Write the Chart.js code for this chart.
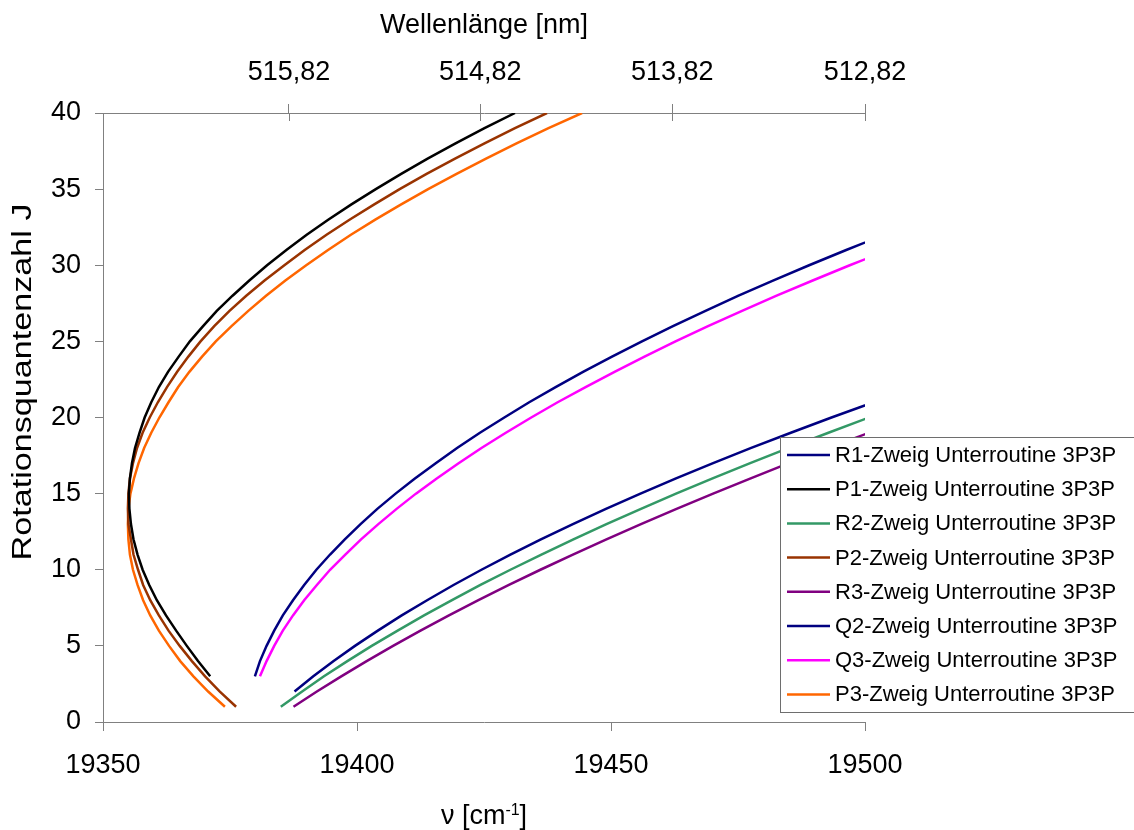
<!DOCTYPE html>
<html>
<head>
<meta charset="utf-8">
<script src="https://cdn.jsdelivr.net/npm/chart.js@4.4.0/dist/chart.umd.min.js"></script>
<style>
  html, body { margin: 0; padding: 0; background: #ffffff; overflow: hidden; }
  canvas { display: block; }
</style>
</head>
<body>
<canvas id="chart" width="1134" height="830"></canvas>
<script>
// Rotational lines of the 3P-3P band: wavenumber (cm^-1) for each rotational quantum number J
const labels = [
  'R1-Zweig Unterroutine 3P3P',
  'P1-Zweig Unterroutine 3P3P',
  'R2-Zweig Unterroutine 3P3P',
  'P2-Zweig Unterroutine 3P3P',
  'R3-Zweig Unterroutine 3P3P',
  'Q2-Zweig Unterroutine 3P3P',
  'Q3-Zweig Unterroutine 3P3P',
  'P3-Zweig Unterroutine 3P3P'
];
const colors = ['#000080', '#000000', '#339966', '#993300', '#800080', '#000080', '#ff00ff', '#ff6600'];

const jR1 = [2,3,4,5,6,7,8,9,10,11,12,13,14,15,16,17,18,19,20,21];
const nuR1 = [19387.7,19391.4,19395.4,19399.6,19404.1,19408.8,19413.8,19419.0,19424.5,19430.2,
              19436.2,19442.5,19449.0,19455.8,19462.8,19470.1,19477.6,19485.4,19493.4,19501.7];

const jP1 = [3,4,5,6,7,8,9,10,11,12,13,14,15,16,17,18,19,20,21,22,23,24,25,26,27,28,29,30,31,32,33,34,35,36,37,38,39,40];
const nuP1 = [19371.1,19368.7,19366.5,19364.4,19362.4,19360.6,19359.1,19357.8,19356.8,19356.0,
              19355.5,19355.2,19355.1,19355.3,19355.7,19356.3,19357.2,19358.2,19359.5,19361.0,
              19362.8,19364.9,19367.1,19369.7,19372.4,19375.5,19378.8,19382.3,19386.1,19390.1,
              19394.4,19398.9,19403.7,19408.7,19413.9,19419.4,19425.1,19431.1];

const jR2 = [1,2,3,4,5,6,7,8,9,10,11,12,13,14,15,16,17,18,19,20];
const nuR2 = [19385.0,19389.2,19393.5,19398.1,19402.9,19408.0,19413.2,19418.7,19424.3,19430.2,
              19436.3,19442.6,19449.1,19455.9,19462.8,19470.0,19477.4,19485.0,19492.8,19500.8];

const jP2 = [1,2,3,4,5,6,7,8,9,10,11,12,13,14,15,16,17,18,19,20,21,22,23,24,25,26,27,28,29,30,31,32,33,34,35,36,37,38,39,40];
const nuP2 = [19376.2,19373.0,19370.1,19367.5,19365.1,19362.9,19361.0,19359.3,19357.9,19356.9,
              19356.0,19355.5,19355.0,19354.9,19355.0,19355.3,19355.9,19356.7,19357.8,19359.2,
              19360.8,19362.6,19364.6,19366.8,19369.2,19371.9,19374.9,19378.2,19381.8,19385.7,
              19389.7,19394.0,19398.6,19403.4,19408.4,19413.7,19419.3,19425.1,19431.1,19437.4];

const jR3 = [1,2,3,4,5,6,7,8,9,10,11,12,13,14,15,16,17,18,19];
const nuR3 = [19387.5,19392.1,19396.9,19401.9,19407.1,19412.5,19418.1,19423.9,19429.9,19436.1,
              19442.5,19449.1,19455.9,19462.9,19470.1,19477.5,19485.0,19492.8,19500.8];

const jQ2 = [3,4,5,6,7,8,9,10,11,12,13,14,15,16,17,18,19,20,21,22,23,24,25,26,27,28,29,30,31,32];
const nuQ2 = [19379.9,19380.9,19382.2,19383.7,19385.4,19387.4,19389.6,19392.0,19394.7,19397.6,
              19400.7,19404.0,19407.6,19411.4,19415.5,19419.7,19424.2,19429.0,19433.9,19439.1,
              19444.5,19450.2,19456.1,19462.2,19468.6,19475.1,19482.0,19489.0,19496.3,19503.8];

const jQ3 = [3,4,5,6,7,8,9,10,11,12,13,14,15,16,17,18,19,20,21,22,23,24,25,26,27,28,29,30,31];
const nuQ3 = [19380.9,19382.2,19383.7,19385.4,19387.4,19389.6,19392.1,19394.7,19397.7,19400.8,
              19404.2,19407.8,19411.6,19415.7,19420.0,19424.5,19429.3,19434.3,19439.5,19445.0,
              19450.7,19456.6,19462.7,19469.1,19475.8,19482.6,19489.7,19497.0,19504.6];

const jP3 = [1,2,3,4,5,6,7,8,9,10,11,12,13,14,15,16,17,18,19,20,21,22,23,24,25,26,27,28,29,30,31,32,33,34,35,36,37,38,39,40];
const nuP3 = [19374.0,19370.7,19367.8,19365.2,19363.0,19361.0,19359.3,19357.9,19356.8,19355.9,
              19355.3,19355.0,19354.9,19355.0,19355.4,19356.1,19357.0,19358.1,19359.5,19361.1,
              19362.9,19364.8,19367.0,19369.5,19372.2,19375.3,19378.6,19382.1,19385.9,19390.0,
              19394.3,19398.8,19403.6,19408.7,19414.0,19419.6,19425.4,19431.4,19437.7,19444.3];

// Axis ranges and tick values
const nuMin = 19350, nuMax = 19500, nuStep = 50;
const jMin = 0, jMax = 40, jStep = 5;
const wavelengthTicks = [515.82, 514.82, 513.82, 512.82]; // nm

const branchJ = [jR1, jP1, jR2, jP2, jR3, jQ2, jQ3, jP3];
const branchNu = [nuR1, nuP1, nuR2, nuP2, nuR3, nuQ2, nuQ3, nuP3];

const axisColor = '#808080';
const fontFamily = '"Liberation Sans", Arial, Helvetica, sans-serif';
const tickFont = { family: fontFamily, size: 27 };

const datasets = labels.map((label, k) => ({
  label,
  data: branchJ[k].map((j, i) => ({ x: branchNu[k][i], y: j })),
  borderColor: colors[k],
  backgroundColor: colors[k],
  borderWidth: 2.5,
  pointRadius: 0,
  pointHoverRadius: 0,
  showLine: true,
  fill: false,
  tension: 0
}));

// Titles, inner ticks of the wavelength axis and the legend box
const decorations = {
  id: 'decorations',
  afterDraw(chart) {
    const { ctx, chartArea: area } = chart;
    const top = chart.scales.xTop;
    ctx.save();

    // wavelength ticks cross the upper axis line
    ctx.strokeStyle = axisColor;
    ctx.lineWidth = 1;
    top.ticks.forEach(t => {
      const x = Math.round(top.getPixelForValue(t.value)) + 0.5;
      ctx.beginPath();
      ctx.moveTo(x, area.top);
      ctx.lineTo(x, area.top + 8);
      ctx.stroke();
    });

    ctx.fillStyle = '#000000';

    // y axis title
    const yTitle = 'Rotationsquantenzahl J';
    ctx.font = '27px ' + fontFamily;
    ctx.save();
    ctx.translate(24, 382);
    ctx.rotate(-Math.PI / 2);
    const yw = ctx.measureText(yTitle).width;
    ctx.scale(357 / yw, 1);
    ctx.textAlign = 'center';
    ctx.textBaseline = 'middle';
    ctx.fillText(yTitle, 0, 0);
    ctx.restore();

    // x axis title with superscript unit
    const main = 'ν [cm', sup = '-1', tail = ']';
    const bigFont = '27px ' + fontFamily, supFont = '16px ' + fontFamily;
    ctx.font = bigFont;
    const w1 = ctx.measureText(main).width, w3 = ctx.measureText(tail).width;
    ctx.font = supFont;
    const w2 = ctx.measureText(sup).width;
    const cx = (area.left + area.right) / 2;
    let x = cx - (w1 + w2 + w3) / 2;
    const base = 824;
    ctx.textAlign = 'left';
    ctx.textBaseline = 'alphabetic';
    ctx.font = bigFont;
    ctx.fillText(main, x, base);
    x += w1;
    ctx.font = supFont;
    ctx.fillText(sup, x, base - 9);
    x += w2;
    ctx.font = bigFont;
    ctx.fillText(tail, x, base);

    // legend box
    const lx = 780.5, ly = 437.5, lw = 370, lh = 275;
    ctx.fillStyle = '#ffffff';
    ctx.fillRect(lx, ly, lw, lh);
    ctx.strokeStyle = '#6e6e6e';
    ctx.lineWidth = 1;
    ctx.strokeRect(lx, ly, lw, lh);
    ctx.font = '22px ' + fontFamily;
    ctx.textBaseline = 'middle';
    ctx.textAlign = 'left';
    chart.data.datasets.forEach((ds, i) => {
      const y = 455 + i * 34.2;
      ctx.strokeStyle = ds.borderColor;
      ctx.lineWidth = 2.5;
      ctx.beginPath();
      ctx.moveTo(787, y);
      ctx.lineTo(830, y);
      ctx.stroke();
      ctx.fillStyle = '#000000';
      ctx.fillText(ds.label, 835, y + 1);
    });

    ctx.restore();
  }
};

new Chart(document.getElementById('chart').getContext('2d'), {
  type: 'scatter',
  data: { datasets },
  plugins: [decorations],
  options: {
    responsive: false,
    animation: false,
    devicePixelRatio: 1,
    events: [],
    layout: { padding: { left: 0, right: 269, top: 0, bottom: 0 } },
    plugins: { legend: { display: false }, tooltip: { enabled: false } },
    scales: {
      x: {
        type: 'linear',
        position: 'bottom',
        min: nuMin, max: nuMax,
        ticks: { stepSize: nuStep, font: tickFont, color: '#000000', padding: 18, autoSkip: false, maxRotation: 0,
                 callback: v => String(v) },
        grid: { drawOnChartArea: false, drawTicks: true, tickLength: 9, color: axisColor, lineWidth: 1 },
        border: { display: true, color: axisColor, width: 1 },
        afterFit: s => { s.height = 108; }
      },
      xTop: {
        type: 'linear',
        axis: 'x',
        position: 'top',
        min: nuMin, max: nuMax,
        afterBuildTicks: s => { s.ticks = wavelengthTicks.map(l => ({ value: 1e7 / l })); },
        ticks: { font: tickFont, color: '#000000', padding: 15, autoSkip: false, maxRotation: 0,
                 callback: v => (1e7 / v).toFixed(2).replace('.', ',') },
        grid: { drawOnChartArea: false, drawTicks: true, tickLength: 9, color: axisColor, lineWidth: 1 },
        border: { display: true, color: axisColor, width: 1 },
        title: { display: true, text: 'Wellenlänge [nm]', font: { family: fontFamily, size: 27 }, color: '#000000',
                 padding: { top: 9, bottom: 0 } },
        afterFit: s => { s.height = 113; }
      },
      y: {
        type: 'linear',
        position: 'left',
        min: jMin, max: jMax,
        ticks: { stepSize: jStep, font: tickFont, color: '#000000', padding: 14, autoSkip: false },
        grid: { drawOnChartArea: false, drawTicks: true, tickLength: 8, color: axisColor, lineWidth: 1 },
        border: { display: true, color: axisColor, width: 1 },
        afterFit: s => { s.width = 103; }
      }
    }
  }
});
</script>
</body>
</html>
